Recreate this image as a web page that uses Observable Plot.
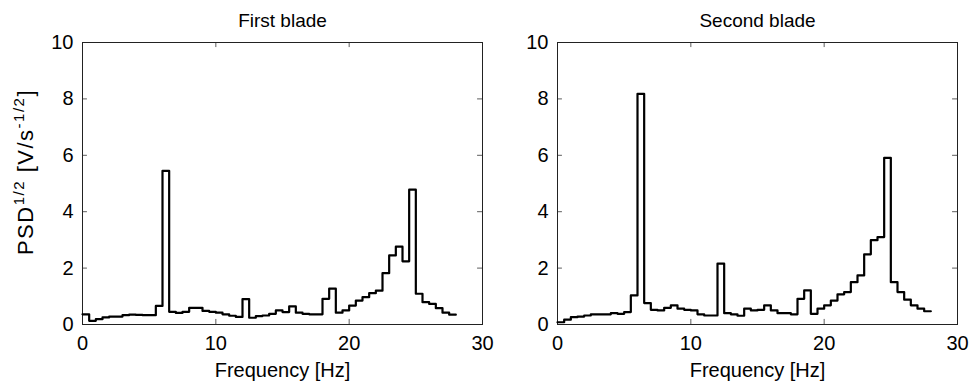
<!DOCTYPE html>
<html><head><meta charset="utf-8">
<script src="https://cdn.jsdelivr.net/npm/d3@7"></script>
<script src="https://cdn.jsdelivr.net/npm/@observablehq/plot@0.6"></script>
<style>
body{margin:0;background:#fff;}
#wrap{position:relative;width:973px;height:385px;font-family:Arial,"Liberation Sans",sans-serif;background:#fff;overflow:hidden;}
.panel{position:absolute;top:0;}
#ylab{position:absolute;left:26px;top:172px;transform:translate(-50%,-50%) rotate(-90deg);font-size:22px;letter-spacing:1.5px;white-space:nowrap;color:#000;line-height:1;}
#ylab sup{font-size:15px;vertical-align:0;position:relative;top:-9px;}
</style></head><body><div id="wrap"></div>
<script>
const freqEdges = [0,0.5,1,1.5,2,2.5,3,3.5,4,4.5,5,5.5,6,6.5,7,7.5,8,8.5,9,9.5,10,10.5,11,11.5,12,12.5,13,13.5,14,14.5,15,15.5,16,16.5,17,17.5,18,18.5,19,19.5,20,20.5,21,21.5,22,22.5,23,23.5,24,24.5,25,25.5,26,26.5,27,27.5,28];
const firstBlade = [0.36,0.13,0.19,0.25,0.28,0.28,0.33,0.35,0.34,0.33,0.33,0.66,5.45,0.45,0.41,0.45,0.59,0.59,0.48,0.45,0.42,0.36,0.31,0.27,0.9,0.24,0.3,0.32,0.38,0.5,0.44,0.64,0.42,0.38,0.36,0.36,0.91,1.27,0.42,0.5,0.67,0.85,0.97,1.11,1.2,1.82,2.45,2.76,2.24,4.78,1.09,0.79,0.73,0.58,0.42,0.35];
const secondBlade = [0.08,0.17,0.26,0.28,0.32,0.36,0.36,0.36,0.4,0.38,0.44,1.03,8.18,0.76,0.52,0.5,0.59,0.68,0.56,0.52,0.5,0.36,0.32,0.32,2.16,0.4,0.36,0.31,0.56,0.5,0.52,0.68,0.5,0.4,0.4,0.36,0.91,1.21,0.38,0.56,0.68,0.85,1.07,1.15,1.5,1.74,2.49,2.99,3.1,5.91,1.5,1.15,0.88,0.68,0.56,0.47];
const xTicks = [0,10,20,30];
const yTicks = [0,2,4,6,8,10];
const titles = ["First blade","Second blade"];
const xLabel = "Frequency [Hz]";

const font = "Arial, 'Liberation Sans', sans-serif";

function panel(vals, title) {
  const pts = freqEdges.map((f, i) => ({f, v: vals[Math.min(i, vals.length - 1)]}));
  return Plot.plot({
    width: 490, height: 385,
    marginLeft: 82, marginRight: 8, marginTop: 42, marginBottom: 61,
    x: {type: "linear", domain: [0, 30], ticks: xTicks},
    y: {type: "linear", domain: [0, 10], ticks: yTicks},
    style: {fontFamily: font, fontSize: "20px", color: "#000", background: "transparent", overflow: "visible"},
    marks: [
      Plot.axisX(xTicks, {anchor: "bottom", tickSize: 0, tickPadding: 11, label: null, fontSize: 20}),
      Plot.axisY(yTicks, {anchor: "left", tickSize: 0, tickPadding: 9, label: null, fontSize: 20}),
      Plot.ruleX(xTicks, {x: d => d, y1: 0, y2: 0.18, stroke: "#333", strokeWidth: 0.8}),
      Plot.ruleX(xTicks, {x: d => d, y1: 9.82, y2: 10, stroke: "#333", strokeWidth: 0.8}),
      Plot.ruleY(yTicks, {y: d => d, x1: 0, x2: 0.37, stroke: "#333", strokeWidth: 0.8}),
      Plot.ruleY(yTicks, {y: d => d, x1: 29.63, x2: 30, stroke: "#333", strokeWidth: 0.8}),
      Plot.frame({stroke: "#222", strokeWidth: 1}),
      Plot.line(pts, {x: "f", y: "v", curve: "step-after", stroke: "#000", strokeWidth: 2.2}),
      Plot.text([title], {frameAnchor: "top", dy: -29, fontSize: 19, fill: "#000"}),
      Plot.text([xLabel], {frameAnchor: "bottom", dy: 52, fontSize: 20, fill: "#000"})
    ]
  });
}

const wrap = document.getElementById("wrap");
const p1 = panel(firstBlade, titles[0]);
p1.classList.add("panel"); p1.style.left = "0px";
const p2 = panel(secondBlade, titles[1]);
p2.classList.add("panel"); p2.style.left = "475px";
wrap.appendChild(p1);
wrap.appendChild(p2);
const yl = document.createElement("div");
yl.id = "ylab";
yl.innerHTML = "PSD<sup>1/2</sup> [V/s<sup>-1/2</sup>]";
wrap.appendChild(yl);
</script>
</body></html>
